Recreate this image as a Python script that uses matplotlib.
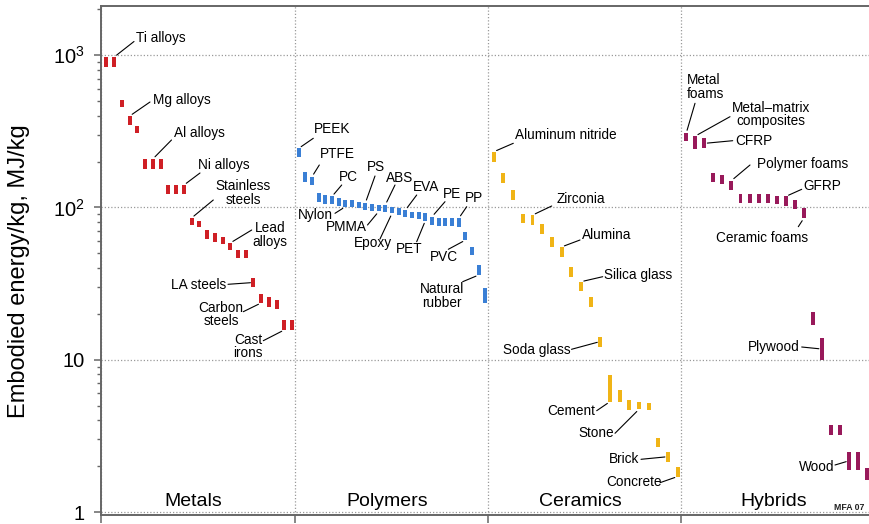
import numpy as np
import matplotlib
matplotlib.use('Agg')
import matplotlib.pyplot as plt
from matplotlib.ticker import FixedLocator, FixedFormatter, NullFormatter, LogLocator

plt.rcParams['font.family'] = ['Liberation Sans', 'DejaVu Sans']
plt.rcParams['mathtext.fontset'] = 'custom'
plt.rcParams['mathtext.rm'] = 'Liberation Sans'
plt.rcParams['mathtext.it'] = 'Liberation Sans:italic'
plt.rcParams['mathtext.bf'] = 'Liberation Sans:bold'

# ---------------- data ----------------
categories = ['Metals', 'Polymers', 'Ceramics', 'Hybrids']

metals_low = [835, 835, 456, 348, 308, 179, 179, 179, 122, 122, 122, 76.6, 74.4,
              62.0, 59.3, 57.5, 52.5, 46.5, 46.5, 30.0, 23.6, 22.3, 21.5, 15.7, 15.7]
metals_high = [971, 971, 507, 398, 342, 208, 208, 208, 140, 140, 140, 85.2, 81.4,
               71.1, 67.9, 63.9, 58.4, 52.5, 52.5, 34.4, 27.0, 25.9, 24.7, 18.2, 18.2]

polymers_low = [215, 147, 140,
                109, 106, 105, 102, 101, 100, 98.6, 96, 95, 94, 93, 91.5, 89, 87,
                85.6, 84, 82, 76.6, 75.8, 75.8, 75.8, 74.7,
                61, 48.7, 36, 23.6]
polymers_high = [244, 172, 159,
                 124, 121, 118, 115, 112, 111, 109, 107, 106, 104, 104, 101, 98.6, 96,
                 93.7, 92.7, 91.5, 87, 84.8, 84.8, 84.8, 84.8,
                 69, 55, 42, 29.6]

ceramics_low = [200, 145, 111, 78.7, 76.6, 67, 54.7, 47.5, 34.8, 28.4, 22.3, 12.2,
                5.3, 5.3, 4.67, 4.72, 4.67, 2.66, 2.14, 1.71]
ceramics_high = [232, 169, 130, 90, 89, 78, 63.6, 55, 40.4, 32.5, 25.9, 14.2,
                 7.9, 6.3, 5.44, 5.3, 5.17, 3.05, 2.49, 1.98]

hybrids_low = [274, 241, 244, 147, 142, 130, 107, 107, 107, 107, 105, 102, 97, 85,
               16.9, 10, 3.2, 3.2, 1.89, 1.89, 1.62]
hybrids_high = [307, 294, 284, 169, 163, 150, 122, 122, 122, 122, 119, 118, 112, 99,
                20.7, 13.8, 3.73, 3.73, 2.49, 2.49, 1.94]

ytick_values = [1, 10, 100, 1000]
ytick_labels = ['1', '10', '$10^{2}$', '$10^{3}$']
ylabel = 'Embodied energy/kg, MJ/kg'

# ---------------- layout / style ----------------
colors = ['#cf1f25', '#3a7fd5', '#f0b416', '#98195a']
slots = [25, 29, 20, 21.38]
offsets = [0.7, 0.62, 0.6, 0.52]
bar_w = 0.0205

W, H = 869, 524
X0, X1 = 101, 875
YT, YB = 6, 515
CAT_W = (X1 - X0) / 4.0
Y1PX, DEC = 512.0, 152.3

fig = plt.figure(figsize=(W / 100, H / 100), dpi=100)
ax = fig.add_axes([X0 / W, (H - YB) / H, (X1 - X0) / W, (YB - YT) / H])
ax.set_yscale('log')
ax.set_xlim(0, 4)
ax.set_ylim(10 ** ((Y1PX - YB) / DEC), 10 ** ((Y1PX - YT) / DEC))


def P(px, py):
    """reference-pixel layout position -> data coords"""
    return ((px - X0) / CAT_W, 10 ** ((Y1PX - py) / DEC))


lows = [metals_low, polymers_low, ceramics_low, hybrids_low]
highs = [metals_high, polymers_high, ceramics_high, hybrids_high]


def bar_x(c, i):
    return c + (i + offsets[c]) / slots[c]


for c in range(4):
    lo = np.array(lows[c], dtype=float)
    hi = np.array(highs[c], dtype=float)
    xs = np.array([bar_x(c, i) for i in range(len(lo))])
    ax.bar(xs, hi - lo, bottom=lo, width=bar_w, color=colors[c], linewidth=0, zorder=3)

# labels: text, category, bar idx, anchor, text pos (px), ha, line start (px)
labels = [
    ('Ti alloys', 0, 1, 'top', (136, 38), 'left', (134, 41.5)),
    ('Mg alloys', 0, 3, 'top', (153, 100), 'left', (150, 102)),
    ('Al alloys', 0, 6, 'top', (173.5, 133.5), 'left', (171.5, 140)),
    ('Ni alloys', 0, 10, 'top', (197.5, 165), 'left', (200, 173)),
    ('Stainless\nsteels', 0, 11, 'top', (243, 193), 'center', (213.3, 200)),
    ('Lead\nalloys', 0, 16, 'top', (270, 235), 'center', (251.7, 230)),
    ('LA steels', 0, 19, 'mid', (226, 285), 'right', (228, 284.3)),
    ('Carbon\nsteels', 0, 20, 'bot', (221, 314.7), 'center', (243.3, 311.7)),
    ('Cast\nirons', 0, 23, 'bot', (248.3, 346.7), 'center', (263.3, 340.7)),
    ('PEEK', 1, 0, 'top', (314.3, 129.3), 'left', (313.3, 138.3)),
    ('PTFE', 1, 2, 'top', (320, 154.3), 'left', (319.3, 165)),
    ('PC', 1, 5, 'top', (339.3, 176.7), 'left', (341.7, 185)),
    ('PS', 1, 10, 'top', (367.3, 166.7), 'left', (375, 176)),
    ('ABS', 1, 13, 'top', (386, 178.3), 'left', (395, 185)),
    ('EVA', 1, 16, 'top', (413.3, 187.3), 'left', (416.7, 195)),
    ('PE', 1, 20, 'top', (442.7, 194.3), 'left', (445, 201.7)),
    ('PP', 1, 24, 'top', (465, 197.7), 'left', (466.7, 206.7)),
    ('Nylon', 1, 7, 'bot', (333.3, 215), 'right', (335, 213.3)),
    ('PMMA', 1, 12, 'bot', (366.7, 227.3), 'right', (367.5, 225)),
    ('Epoxy', 1, 14, 'bot', (373, 243.5), 'center', (380, 239)),
    ('PET', 1, 19, 'bot', (409, 249), 'center', (416.7, 241.7)),
    ('PVC', 1, 25, 'bot', (430, 256.7), 'left', (448.3, 249.3)),
    ('Natural\nrubber', 1, 27, 'bot', (442.3, 296), 'center', (462.7, 281.7)),
    ('Aluminum nitride', 2, 0, 'top', (515, 135), 'left', (513.3, 143.3)),
    ('Zirconia', 2, 4, 'top', (556.7, 199.3), 'left', (551.7, 206)),
    ('Alumina', 2, 7, 'top', (581.7, 235), 'left', (580, 240)),
    ('Silica glass', 2, 9, 'top', (604, 275), 'left', (602.7, 276.7)),
    ('Soda glass', 2, 11, 'mid', (570.7, 350), 'right', (571.5, 349.3)),
    ('Cement', 2, 12, 'bot', (595, 410.7), 'right', (596.7, 410.7)),
    ('Stone', 2, 15, 'bot', (614, 433.3), 'right', (615, 433.3)),
    ('Brick', 2, 18, 'mid', (639.3, 459.3), 'right', (641, 459.3)),
    ('Concrete', 2, 19, 'bot', (661.7, 481.7), 'right', (660, 482.7)),
    ('Metal\nfoams', 3, 0, 'top', (686.7, 87), 'left', (695, 103.3)),
    ('Metal\u2013matrix\ncomposites', 3, 1, 'top', (770.7, 114.5), 'center', (730, 116.7)),
    ('CFRP', 3, 2, 'mid', (735, 140.7), 'left', (732.7, 140.7)),
    ('Polymer foams', 3, 5, 'top', (757.3, 164), 'left', (750, 165)),
    ('GFRP', 3, 11, 'top', (803.3, 186), 'left', (801.7, 189.3)),
    ('Ceramic foams', 3, 13, 'bot', (762.5, 238.3), 'center', (798.3, 226.7)),
    ('Plywood', 3, 15, 'mid', (800, 347.3), 'right', (801.7, 347)),
    ('Wood', 3, 18, 'mid', (834, 467.3), 'right', (835, 465)),
]

for text, c, i, anchor, tpos, ha, lstart in labels:
    lo, hi = lows[c][i], highs[c][i]
    yv = {'top': hi, 'bot': lo, 'mid': np.sqrt(lo * hi)}[anchor]
    xb = bar_x(c, i)
    tx, ty = P(*tpos)
    ma = 'left' if ha == 'left' else 'center'
    ax.text(tx, ty, text, ha=ha, va='center', fontsize=9.8, linespacing=0.95,
            multialignment=ma, color='black', zorder=5)
    ax.annotate('', xy=(xb, yv), xytext=P(*lstart),
                arrowprops=dict(arrowstyle='-', color='black', lw=0.8,
                                shrinkA=0, shrinkB=2.2), zorder=4)

# category names
for c, name in enumerate(categories):
    ax.text(c + 0.478, P(0, 506.5)[1], name, ha='center', va='baseline',
            fontsize=14, color='black', zorder=5)

mx, my = P(834, 507.5)
ax.text(mx, my, 'MFA 07', ha='left', va='center', fontsize=6.3,
        fontweight='bold', color='#222222', zorder=5)

# axes styling
spine_c = '#666666'
for s in ['left', 'top', 'bottom']:
    ax.spines[s].set_color(spine_c)
    ax.spines[s].set_linewidth(1.4)
ax.spines['right'].set_visible(False)

ax.yaxis.set_major_locator(FixedLocator(ytick_values))
ax.yaxis.set_major_formatter(FixedFormatter(ytick_labels))
ax.yaxis.set_minor_locator(LogLocator(base=10, subs=np.arange(2, 10)))
ax.yaxis.set_minor_formatter(NullFormatter())
ax.tick_params(axis='y', which='major', direction='out', length=5, width=1.1,
               color=spine_c, labelsize=14.5, pad=7)
ax.tick_params(axis='y', which='minor', direction='out', length=3.2, width=1.0,
               color=spine_c)
ax.set_xticks([0, 1, 2, 3])
ax.set_xticklabels([])
ax.tick_params(axis='x', which='major', direction='out', length=6, width=1.1,
               color=spine_c)
ax.tick_params(axis='x', which='minor', bottom=False)

ax.grid(True, which='major', color='#9a9a9a', linestyle=(0, (1, 1.6)), linewidth=0.9)
ax.set_axisbelow(True)

fig.text(19 / W, 1 - 271.5 / H, ylabel, rotation=90, ha='center', va='center',
         fontsize=17, color='black')

fig.savefig('out.png', dpi=100)
